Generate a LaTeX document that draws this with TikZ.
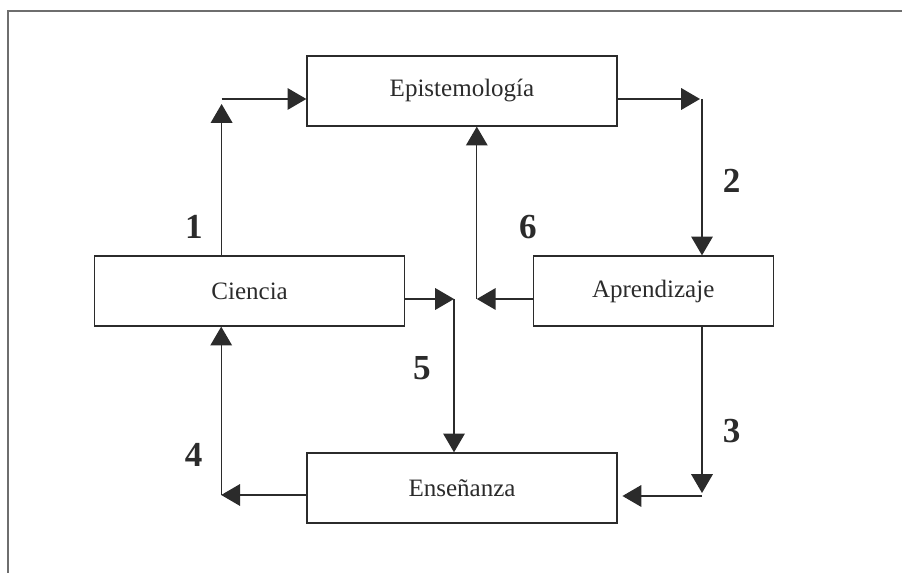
\documentclass[tikz,border=0pt]{standalone}
\usepackage{fontspec}
\setmainfont{Liberation Serif}
\usetikzlibrary{arrows.meta,calc,positioning}
\definecolor{Ink}{HTML}{2B2B2B}
\definecolor{Frame}{HTML}{6E6E6E}

\tikzset{
  stage/.style={draw=Ink,line width=0.95pt,minimum width=7.75cm,minimum height=1.75cm,
    inner sep=0pt,font=\fontsize{17.8}{20}\selectfont,text=Ink},
  flow/.style={draw=Ink,line width=0.9pt,-{Triangle[length=4.7mm,width=5.4mm]}},
  tag/.style={font=\fontsize{25}{28}\selectfont\bfseries,text=Ink}
}

\begin{document}
\begin{tikzpicture}[x=1cm,y=1cm]
    \useasboundingbox (0,0) rectangle (22.55,14.325);
    \draw[Frame,line width=0.8pt] (0.2,0) -- (0.2,14.05) -- (22.55,14.05);

    \node[stage] (epist) at (11.55,12.05) {Epistemología};
    \node[stage] (ciencia) at (6.24,7.05) {Ciencia};
    \node[stage,minimum width=6cm] (aprend) at (16.33,7.05) {Aprendizaje};
    \node[stage] (ensen) at (11.55,2.125) {Enseñanza};

    % corners of the connectors
    \coordinate (k1) at (5.54,11.85);
    \coordinate (k2) at (17.55,11.85);
    \coordinate (k3) at (17.55,1.925);
    \coordinate (k4) at (5.53,1.95);
    \coordinate (k5) at (11.35,6.85);
    \coordinate (k6) at (11.92,6.85);

    \draw[flow] (ciencia.north -| k1) -- ([yshift=-1.25mm]k1);
    \draw[flow] (k1) -- (k1 -| epist.west);

    \draw[flow] (epist.east |- k2) -- ([xshift=-0.5mm]k2);
    \draw[flow] (k2) -- (k2 |- aprend.north);

    \draw[flow] (aprend.south -| k3) -- ([yshift=0.75mm]k3);
    \draw[flow] (k3) -- ([xshift=1.2mm]k3 -| ensen.east);

    \draw[flow] (ensen.west |- k4) -- (k4);
    \draw[flow] (k4) -- (k4 |- ciencia.south);

    \draw[flow] (ciencia.east |- k5) -- (k5);
    \draw[flow] (k5) -- (k5 |- ensen.north);

    \draw[flow] (aprend.west |- k6) -- (k6);
    \draw[flow] (k6) -- (k6 |- epist.south);

    \node[tag] (n1) at (4.85,8.65) {1};
    \node[tag] (n2) at (18.29,9.81) {2};
    \node[tag] (n3) at (18.29,3.56) {3};
    \node[tag] (n4) at (4.84,2.96) {4};
    \node[tag] (n5) at (10.55,5.11) {5};
    \node[tag] (n6) at (13.2,8.65) {6};
\end{tikzpicture}
\end{document}
